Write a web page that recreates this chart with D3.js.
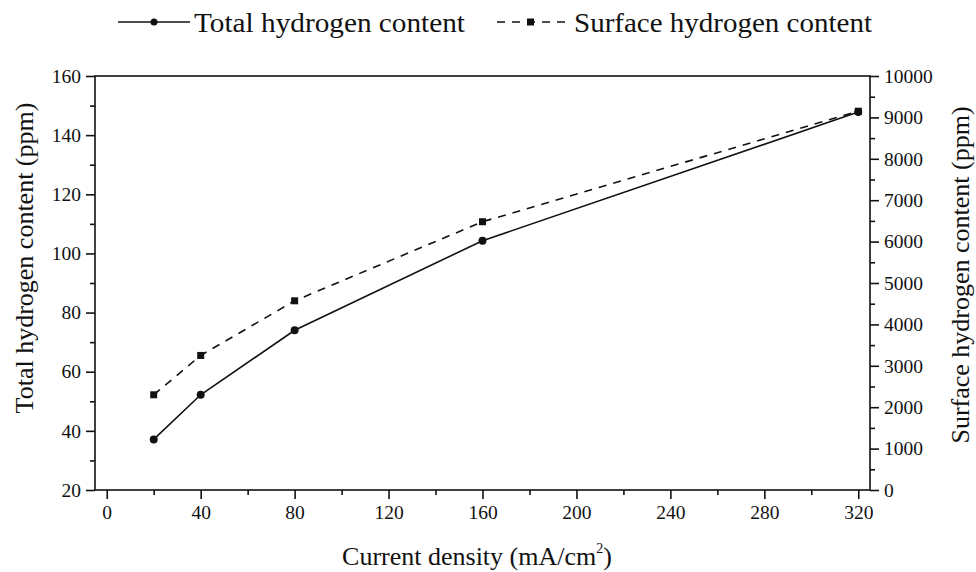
<!DOCTYPE html>
<html><head><meta charset="utf-8">
<script src="https://cdn.jsdelivr.net/npm/d3@7"></script>
<style>
html,body{margin:0;padding:0;background:#fff;}
svg text{font-family:"Liberation Serif","Times New Roman",serif;fill:#111;}
</style></head>
<body><svg id="c" width="976" height="572"></svg>
<script>
const currentDensity = [20, 40, 80, 160, 320];
const totalHydrogen = [37.1, 52.2, 74.0, 104.3, 147.8];
const surfaceHydrogen = [2300, 3250, 4570, 6480, 9150];
const xTicks = [0, 40, 80, 120, 160, 200, 240, 280, 320];
const yLeftTicks = [20, 40, 60, 80, 100, 120, 140, 160];
const yRightTicks = [0, 1000, 2000, 3000, 4000, 5000, 6000, 7000, 8000, 9000, 10000];
const seriesNames = ["Total hydrogen content", "Surface hydrogen content"];

const svg = d3.select("#c");
const L = 95, R = 870, T = 76, B = 490;
const x = d3.scaleLinear().domain([-5, 325]).range([L, R]);
const yL = d3.scaleLinear().domain([20, 160]).range([B, T]);
const yR = d3.scaleLinear().domain([0, 10000]).range([B, T]);

const stroke = "#111";
svg.append("rect").attr("x", L).attr("y", T).attr("width", R - L).attr("height", B - T)
  .attr("fill", "none").attr("stroke", stroke).attr("stroke-width", 1.6);

function styleAxis(g, fs) {
  g.select(".domain").remove();
  g.selectAll("line").attr("stroke", stroke).attr("stroke-width", 1.6);
  g.selectAll("text").style("font-size", fs + "px").attr("fill", "#111");
}
const gx = svg.append("g").attr("transform", `translate(0,${B})`);
gx.append("g").call(d3.axisBottom(x).tickValues(d3.range(20, 320, 40)).tickSize(5).tickFormat(""))
  .call(g => styleAxis(g, 19.5));
gx.append("g").call(d3.axisBottom(x).tickValues(xTicks).tickSize(9).tickPadding(6).tickFormat(d3.format("d")))
  .call(g => styleAxis(g, 19.5));

const gl = svg.append("g").attr("transform", `translate(${L},0)`);
gl.append("g").call(d3.axisLeft(yL).tickValues(d3.range(30, 160, 20)).tickSize(5).tickFormat(""))
  .call(g => styleAxis(g, 19.5));
gl.append("g").call(d3.axisLeft(yL).tickValues(yLeftTicks).tickSize(9).tickPadding(5).tickFormat(d3.format("d")))
  .call(g => styleAxis(g, 19.5));

const gr = svg.append("g").attr("transform", `translate(${R},0)`);
gr.append("g").call(d3.axisRight(yR).tickValues(d3.range(500, 10000, 1000)).tickSize(5).tickFormat(""))
  .call(g => styleAxis(g, 19.5));
gr.append("g").call(d3.axisRight(yR).tickValues(yRightTicks).tickSize(9).tickPadding(5).tickFormat(d3.format("d")))
  .call(g => styleAxis(g, 19.5));

const lineT = d3.line().x((d, i) => x(currentDensity[i])).y(d => yL(d));
const lineS = d3.line().x((d, i) => x(currentDensity[i])).y(d => yR(d));
svg.append("path").datum(totalHydrogen).attr("d", lineT).attr("fill", "none")
  .attr("stroke", stroke).attr("stroke-width", 1.6);
svg.append("path").datum(surfaceHydrogen).attr("d", lineS).attr("fill", "none")
  .attr("stroke", stroke).attr("stroke-width", 1.6).attr("stroke-dasharray", "8,7");
svg.selectAll(".pt").data(totalHydrogen).enter().append("circle")
  .attr("cx", (d, i) => x(currentDensity[i])).attr("cy", d => yL(d)).attr("r", 4).attr("fill", stroke);
svg.selectAll(".sq").data(surfaceHydrogen).enter().append("rect")
  .attr("x", (d, i) => x(currentDensity[i]) - 3.5).attr("y", d => yR(d) - 3.5)
  .attr("width", 7).attr("height", 7).attr("fill", stroke);

const lg = svg.append("g");
lg.append("line").attr("x1", 118).attr("x2", 190).attr("y1", 22).attr("y2", 22).attr("stroke", stroke).attr("stroke-width", 1.6);
lg.append("circle").attr("cx", 154).attr("cy", 22).attr("r", 3.5).attr("fill", stroke);
lg.append("text").attr("x", 194).attr("y", 32).style("font-size", "27px")
  .attr("textLength", 271).attr("lengthAdjust", "spacingAndGlyphs").text(seriesNames[0]);
lg.append("line").attr("x1", 497).attr("x2", 566).attr("y1", 22).attr("y2", 22).attr("stroke", stroke)
  .attr("stroke-width", 1.6).attr("stroke-dasharray", "8,7");
lg.append("rect").attr("x", 527).attr("y", 18.5).attr("width", 7).attr("height", 7).attr("fill", stroke);
lg.append("text").attr("x", 574).attr("y", 32).style("font-size", "27px")
  .attr("textLength", 298).attr("lengthAdjust", "spacingAndGlyphs").text(seriesNames[1]);

const xt = svg.append("text").attr("x", 477).attr("y", 565).attr("text-anchor", "middle").style("font-size", "26px");
xt.append("tspan").text("Current density (mA/cm");
xt.append("tspan").attr("dy", -12).style("font-size", "14px").text("2");
xt.append("tspan").attr("dy", 12).text(")");

svg.append("text").attr("transform", "translate(33,258) rotate(-90)").attr("text-anchor", "middle")
  .style("font-size", "26px").text("Total hydrogen content (ppm)");
svg.append("text").attr("transform", "translate(969,275) rotate(-90)").attr("text-anchor", "middle")
  .style("font-size", "26px").text("Surface hydrogen content (ppm)");
</script></body></html>
